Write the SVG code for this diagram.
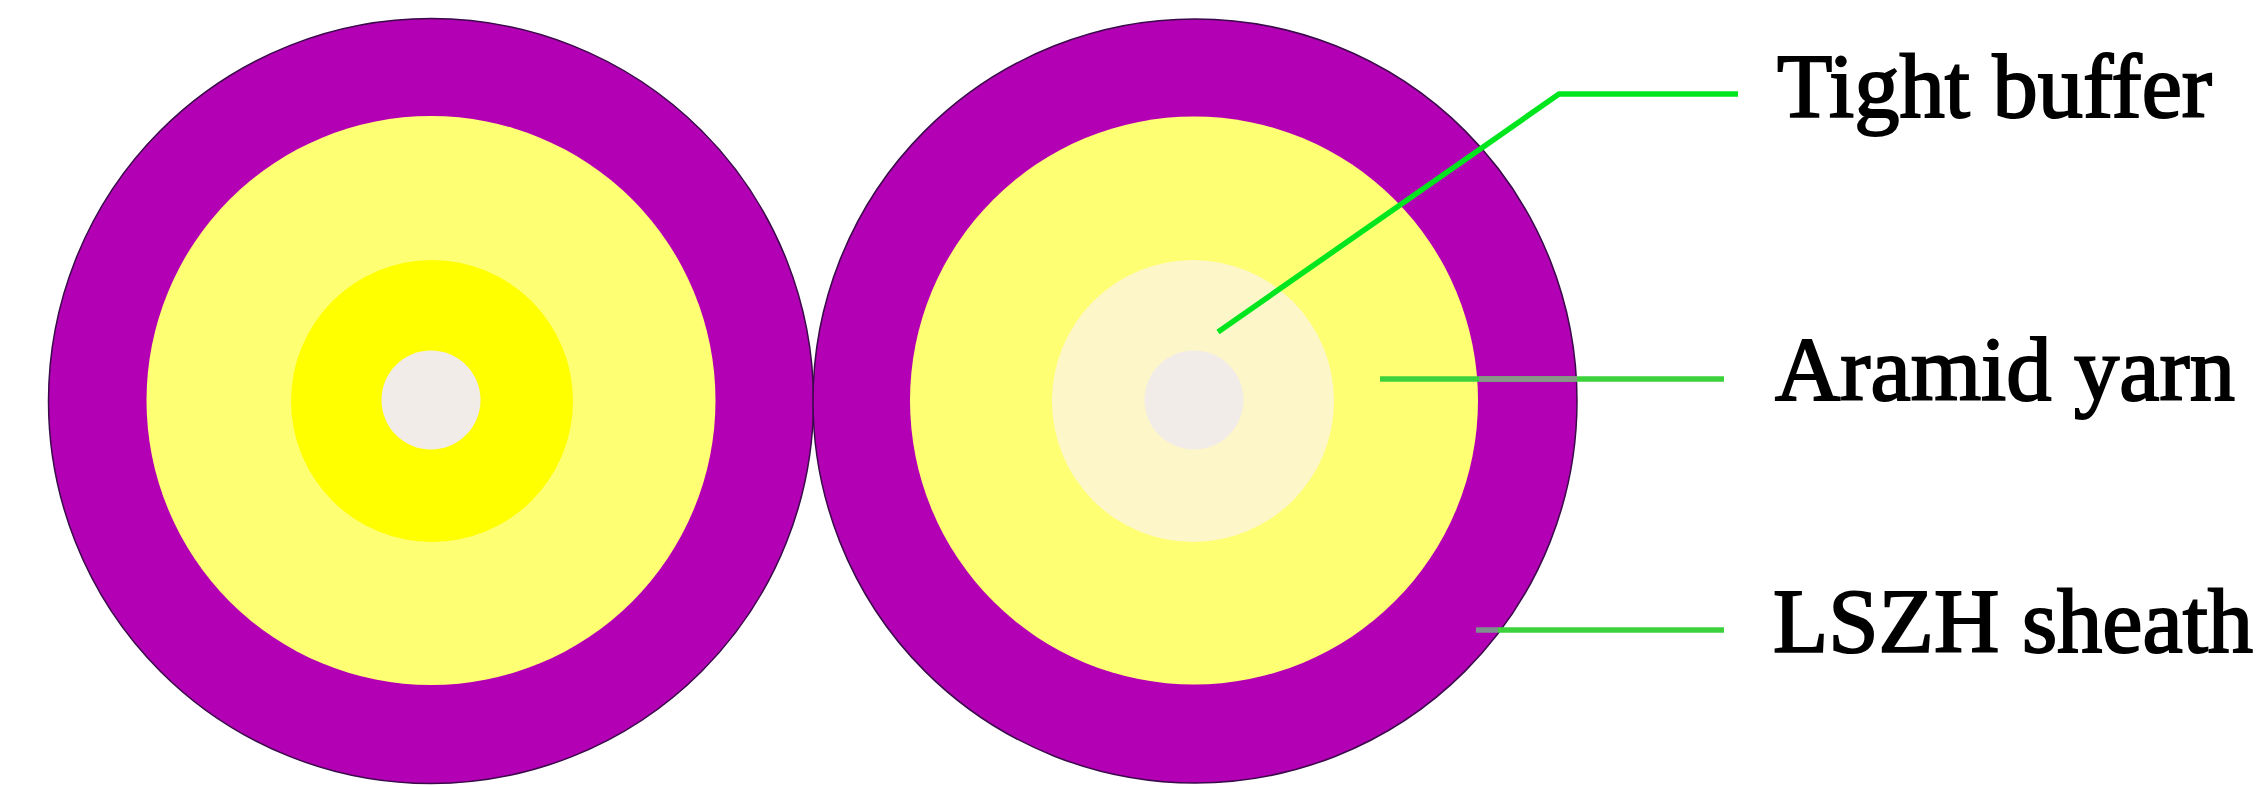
<svg xmlns="http://www.w3.org/2000/svg" width="2264" height="787" viewBox="0 0 2264 787">
<style>
.sheath{fill:#b400b4;stroke:#3a0a4a;stroke-width:1.500}
.yarn{fill:#ffff73}
.core{fill:#f2ece8}
.lbl{font-family:"Liberation Serif","Times New Roman",serif;font-size:90.500px;fill:#000;stroke:#000;stroke-width:2}
.con{fill:none;stroke-width:5.500}
</style>
<rect width="2264" height="787" fill="#fff"/>
<g id="cable-left">
<circle class="sheath" cx="431" cy="401" r="382.500"/>
<circle class="yarn" cx="431" cy="400.500" r="284.500"/>
<circle cx="432" cy="401" r="141" fill="#ffff00"/>
<circle class="core" cx="431" cy="400" r="49.500"/>
</g>
<g id="cable-right">
<circle class="sheath" cx="1195" cy="401" r="382"/>
<circle class="yarn" cx="1194" cy="400.500" r="284"/>
<circle cx="1193" cy="401" r="141" fill="#fdf6c8"/>
<circle class="core" cx="1194" cy="400" r="49.500"/>
</g>
<g id="connectors">
<polyline class="con" stroke="#00e61e" points="1218,332 1559,94 1738,94"/>
<line class="con" stroke="#3cd23c" x1="1380" y1="379" x2="1724" y2="379"/>
<line class="con" stroke="#8a948a" x1="1479" y1="379" x2="1577" y2="379"/>
<line class="con" stroke="#3cd23c" x1="1498" y1="630" x2="1724" y2="630"/>
<line class="con" stroke="#7f8f8f" x1="1476" y1="630" x2="1498" y2="630"/>
</g>
<g id="label-tight-buffer"><text class="lbl" x="1777" y="117">Tight buffer</text></g>
<g id="label-aramid-yarn"><text class="lbl" x="1775" y="400">Aramid yarn</text></g>
<g id="label-lszh-sheath"><text class="lbl" x="1773" y="652">LSZH sheath</text></g>
</svg>
